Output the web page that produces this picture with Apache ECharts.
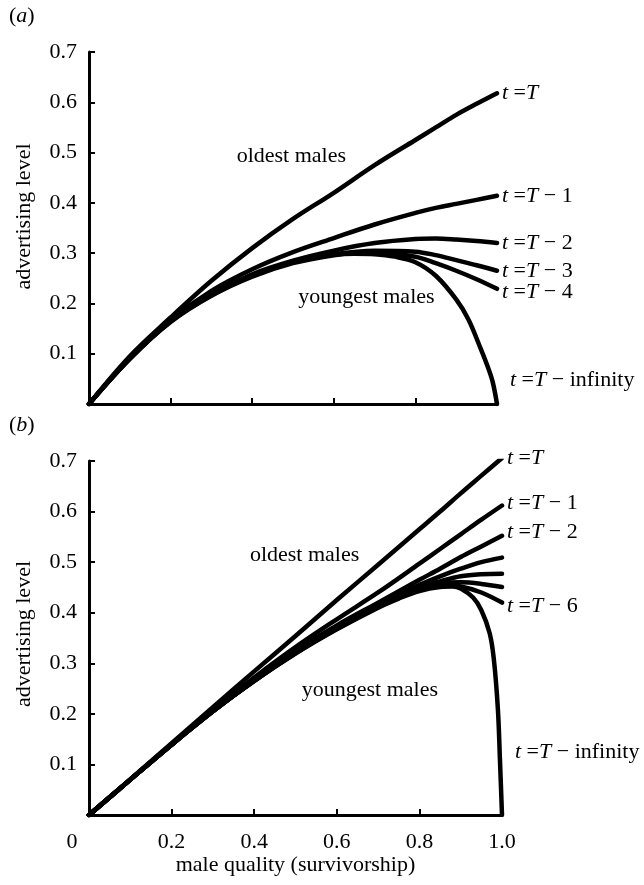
<!DOCTYPE html>
<html>
<head>
<meta charset="utf-8">
<script src="https://cdn.jsdelivr.net/npm/echarts@6/dist/echarts.min.js"></script>
<style>
html,body{margin:0;padding:0;background:#fff;}
#c{width:644px;height:885px;}
</style>
</head>
<body>
<div id="c"></div>
<script>
// ---- Panel (a) data ----
const aX      = [0, 0.1, 0.2, 0.3, 0.4, 0.5, 0.6, 0.7, 0.8, 0.85, 0.9, 0.95, 1.0];
const aT0     = [0, 0.095, 0.172, 0.245, 0.31, 0.368, 0.42, 0.475, 0.525, 0.55, 0.575, 0.597, 0.618];
const aT1     = [0, 0.092, 0.167, 0.225, 0.268, 0.302, 0.33, 0.357, 0.38, 0.39, 0.398, 0.406, 0.414];
const aT2     = [0, 0.09, 0.165, 0.218, 0.258, 0.285, 0.305, 0.32, 0.328, 0.329, 0.327, 0.324, 0.32];
const aT3     = [0, 0.09, 0.164, 0.217, 0.256, 0.283, 0.298, 0.305, 0.303, 0.296, 0.286, 0.276, 0.265];
const aT4     = [0, 0.09, 0.164, 0.216, 0.255, 0.282, 0.297, 0.302, 0.293, 0.28, 0.265, 0.248, 0.229];
const aYoungX = [0, 0.1, 0.2, 0.3, 0.4, 0.5, 0.6, 0.65, 0.7, 0.75, 0.8, 0.85, 0.9, 0.93, 0.96, 0.98, 0.99, 1.0];
const aYoungY = [0, 0.09, 0.163, 0.215, 0.253, 0.28, 0.296, 0.299, 0.298, 0.293, 0.282, 0.255, 0.208, 0.168, 0.11, 0.068, 0.042, 0];

// ---- Panel (b) data ----
const bX      = [0, 0.1, 0.2, 0.3, 0.4, 0.5, 0.6, 0.7, 0.8, 0.85, 0.9, 0.95, 1.0];
const bT0     = [0, 0.071, 0.142, 0.213, 0.284, 0.354, 0.425, 0.495, 0.565, 0.6, 0.636, 0.671, 0.706];
const bT1     = [0, 0.07, 0.14, 0.208, 0.272, 0.332, 0.387, 0.44, 0.497, 0.526, 0.555, 0.584, 0.612];
const bT2     = [0, 0.07, 0.139, 0.205, 0.267, 0.325, 0.375, 0.42, 0.465, 0.487, 0.51, 0.531, 0.552];
const bT3     = [0, 0.07, 0.139, 0.205, 0.266, 0.322, 0.372, 0.415, 0.455, 0.472, 0.487, 0.5, 0.509];
const bT4     = [0, 0.07, 0.139, 0.205, 0.266, 0.321, 0.37, 0.413, 0.45, 0.462, 0.472, 0.476, 0.477];
const bT5     = [0, 0.07, 0.139, 0.205, 0.265, 0.32, 0.369, 0.412, 0.448, 0.458, 0.46, 0.457, 0.451];
const bT6     = [0, 0.07, 0.139, 0.205, 0.265, 0.32, 0.368, 0.411, 0.446, 0.455, 0.452, 0.44, 0.42];
const bYoungX = [0, 0.1, 0.2, 0.3, 0.4, 0.5, 0.6, 0.7, 0.75, 0.8, 0.85, 0.88, 0.9, 0.93, 0.95, 0.97, 0.98, 0.99, 0.995, 1.0];
const bYoungY = [0, 0.07, 0.139, 0.205, 0.265, 0.319, 0.367, 0.41, 0.428, 0.443, 0.451, 0.452, 0.448, 0.43, 0.405, 0.36, 0.31, 0.21, 0.11, 0];

// ---- text ----
const yTitle = 'advertising level';
const xTitle = 'male quality (survivorship)';
const panelLabels = ['a', 'b'];
const regionLabels = ['oldest males', 'youngest males'];

const FONT = '"Liberation Serif", "DejaVu Serif", serif';
const FS = 22;
const rich = { i: { fontStyle: 'italic', fontFamily: FONT, fontSize: FS, color: '#000' } };

function pairs(xs, ys) { return xs.map((x, i) => [x, ys[i]]); }

function lineSeries(idx, xs, ys, label, offset) {
  const s = {
    type: 'line', xAxisIndex: idx, yAxisIndex: idx,
    data: pairs(xs, ys), showSymbol: false, symbol: 'none',
    smooth: 0.35, silent: true, animation: false,
    lineStyle: { color: '#000', width: 4.5, cap: 'round', join: 'round' },
    z: 3
  };
  if (label) {
    s.endLabel = {
      show: true, formatter: label, distance: 5,
      offset: offset || [0, 0],
      fontFamily: FONT, fontSize: FS, color: '#000', rich: rich
    };
  }
  return s;
}

const axisLineStyle = { show: true, lineStyle: { color: '#000', width: 3 } };
const tickStyle = { show: true, inside: true, length: 6, lineStyle: { color: '#000', width: 2 } };
const labStyle = { fontFamily: FONT, fontSize: FS, color: '#000' };

function yAxis(idx, shift) {
  return {
    type: 'value', gridIndex: idx, min: 0, max: 0.7, interval: 0.1,
    axisLine: axisLineStyle, axisTick: tickStyle, splitLine: { show: false },
    axisLabel: Object.assign({ margin: 12, showMinLabel: false,
      formatter: v => (Math.abs(v) < 1e-9 ? '' : v.toFixed(1)) }, labStyle),
    name: yTitle, nameLocation: 'middle', nameGap: 54,
    nameTextStyle: Object.assign({ padding: [0, 0, 0, shift] }, labStyle)
  };
}

const option = {
  backgroundColor: '#fff',
  animation: false,
  grid: [
    { left: 89, top: 52, width: 408, height: 352 },
    { left: 89, top: 461, width: 413, height: 354 }
  ],
  xAxis: [
    { type: 'value', gridIndex: 0, min: 0, max: 1, interval: 0.2,
      axisLine: axisLineStyle, axisTick: tickStyle, splitLine: { show: false },
      axisLabel: { show: false } },
    { type: 'value', gridIndex: 1, min: 0, max: 1, interval: 0.2,
      axisLine: axisLineStyle, axisTick: tickStyle, splitLine: { show: false },
      axisLabel: Object.assign({ margin: 16,
        formatter: v => (Math.abs(v) < 1e-9 ? '{o|0}' : v.toFixed(1)),
        rich: { o: { fontFamily: FONT, fontSize: FS, color: '#000', padding: [0, 34, 0, 0] } } }, labStyle),
      name: xTitle, nameLocation: 'middle', nameGap: 38,
      nameTextStyle: Object.assign({}, labStyle) }
  ],
  yAxis: [yAxis(0, 23), yAxis(1, 8)],
  series: [
    lineSeries(0, aX, aT0, '{i|t} ={i|T}'),
    lineSeries(0, aX, aT1, '{i|t} ={i|T} − 1'),
    lineSeries(0, aX, aT2, '{i|t} ={i|T} − 2'),
    lineSeries(0, aX, aT3, '{i|t} ={i|T} − 3'),
    lineSeries(0, aX, aT4, '{i|t} ={i|T} − 4', [0, 3]),
    lineSeries(0, aYoungX, aYoungY, '{i|t} ={i|T} − infinity', [8, -24]),
    lineSeries(1, bX, bT0, '{i|t} ={i|T}'),
    lineSeries(1, bX, bT1, '{i|t} ={i|T} − 1', [0, -2]),
    lineSeries(1, bX, bT2, '{i|t} ={i|T} − 2', [0, -4]),
    lineSeries(1, bX, bT3, null),
    lineSeries(1, bX, bT4, null),
    lineSeries(1, bX, bT5, null),
    lineSeries(1, bX, bT6, '{i|t} ={i|T} − 6', [0, 4]),
    lineSeries(1, bYoungX, bYoungY, '{i|t} ={i|T} − infinity', [8, -63])
  ]
};

const chart = echarts.init(document.getElementById('c'), null, { renderer: 'canvas' });
chart.setOption(option);

// annotation placement (data coordinates)
const notes = [
  { g: 0, at: [0.496, 0.493], text: regionLabels[0] },
  { g: 0, at: [0.68, 0.213], text: regionLabels[1] },
  { g: 1, at: [0.522, 0.514], text: regionLabels[0] },
  { g: 1, at: [0.68, 0.247], text: regionLabels[1] }
];
const graphics = notes.map(n => {
  const p = chart.convertToPixel({ xAxisIndex: n.g, yAxisIndex: n.g }, n.at);
  return { type: 'text', x: p[0], y: p[1], z: 10,
    style: { text: n.text, fill: '#000', font: FS + 'px ' + FONT, align: 'center', verticalAlign: 'middle' } };
});
graphics.push({ type: 'text', left: 9, top: 5, z: 10,
  style: { text: '({i|' + panelLabels[0] + '})', fill: '#000', font: FS + 'px ' + FONT, rich: rich } });
graphics.push({ type: 'text', left: 9, top: 414, z: 10,
  style: { text: '({i|' + panelLabels[1] + '})', fill: '#000', font: FS + 'px ' + FONT, rich: rich } });
chart.setOption({ graphic: graphics });
</script>
</body>
</html>
